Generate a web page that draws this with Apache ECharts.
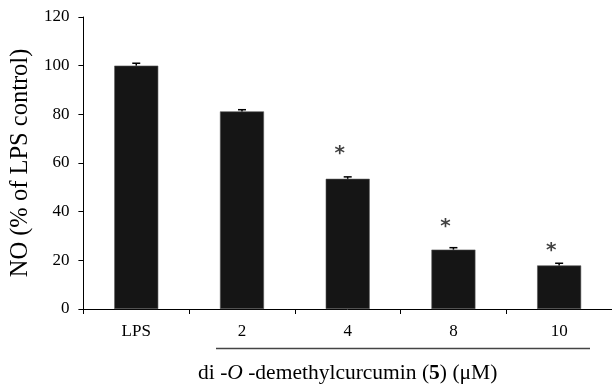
<!DOCTYPE html>
<html>
<head>
<meta charset="utf-8">
<script src="https://cdn.jsdelivr.net/npm/echarts@6/dist/echarts.min.js"></script>
<style>
html,body{margin:0;padding:0;background:#fff;}
#chart{width:612px;height:389px;}
</style>
</head>
<body>
<div id="chart"></div>
<script>
var categories = ['LPS', '2', '4', '8', '10'];
var values = [100, 81.2, 53.5, 24.4, 17.9];
var errors = [1.0, 0.7, 0.8, 0.8, 0.9];
var starValues = [null, null, 65.6, 35.3, 25.5];
var yTicks = [0, 20, 40, 60, 80, 100, 120];

var serif = '"Liberation Serif", "Times New Roman", serif';
var chart = echarts.init(document.getElementById('chart'));

var errData = values.map(function (v, i) { return [i, v, errors[i]]; });
var starData = starValues.map(function (v, i) { return [i, v]; }).filter(function (d) { return d[1] != null; });

chart.setOption({
  animation: false,
  backgroundColor: '#fff',
  grid: { left: 83, top: 17, width: 537.5, height: 292 },
  xAxis: {
    type: 'category',
    data: categories,
    boundaryGap: true,
    axisLine: { lineStyle: { color: '#000', width: 1 } },
    axisTick: { show: true, length: 5, inside: false, lineStyle: { color: '#000' } },
    axisLabel: { color: '#000', fontFamily: serif, fontSize: 17, margin: 14 },
    name: '{n|di -}{i|O}{n| -demethylcurcumin (}{b|5}{n|) (μM)}',
    nameLocation: 'middle',
    nameGap: 53,
    nameTextStyle: {
      rich: {
        n: { fontFamily: serif, fontSize: 21.5, color: '#000' },
        i: { fontFamily: serif, fontSize: 21.5, color: '#000', fontStyle: 'italic' },
        b: { fontFamily: serif, fontSize: 21.5, color: '#000', fontWeight: 'bold' }
      }
    }
  },
  yAxis: {
    type: 'value',
    min: yTicks[0],
    max: yTicks[yTicks.length - 1],
    interval: 20,
    splitLine: { show: false },
    axisLine: { show: true, lineStyle: { color: '#000', width: 1 } },
    axisTick: { show: true, length: 5, lineStyle: { color: '#000' } },
    axisLabel: { color: '#000', fontFamily: serif, fontSize: 17, margin: 14 },
    name: 'NO (% of LPS control)',
    nameLocation: 'middle',
    nameGap: 47,
    nameTextStyle: { fontFamily: serif, fontSize: 24.5, color: '#000' }
  },
  graphic: [{
    type: 'line',
    shape: { x1: 216, y1: 348.5, x2: 590, y2: 348.5 },
    style: { stroke: '#444', lineWidth: 1.5 }
  }],
  series: [
    {
      type: 'bar',
      data: values,
      barWidth: 44,
      itemStyle: { color: '#151515', borderColor: '#555', borderWidth: 0.6 },
      z: 2
    },
    {
      type: 'custom',
      data: errData,
      z: 3,
      renderItem: function (params, api) {
        var x = api.value(0), v = api.value(1), e = api.value(2);
        var p0 = api.coord([x, v]);
        var p1 = api.coord([x, v + e]);
        var hw = 4;
        return {
          type: 'group',
          children: [
            { type: 'line', shape: { x1: p0[0], y1: p0[1], x2: p1[0], y2: p1[1] }, style: { stroke: '#000', lineWidth: 1.5 } },
            { type: 'line', shape: { x1: p1[0] - hw, y1: p1[1], x2: p1[0] + hw, y2: p1[1] }, style: { stroke: '#000', lineWidth: 1.5 } }
          ]
        };
      }
    },
    {
      type: 'scatter',
      data: starData,
      symbolSize: 0,
      z: 4,
      label: {
        show: true,
        position: 'inside',
        formatter: '*',
        offset: [-8, 4],
        fontFamily: '"DejaVu Sans", sans-serif',
        fontWeight: 'bold',
        fontSize: 20,
        color: '#111'
      }
    }
  ]
});
</script>
</body>
</html>
